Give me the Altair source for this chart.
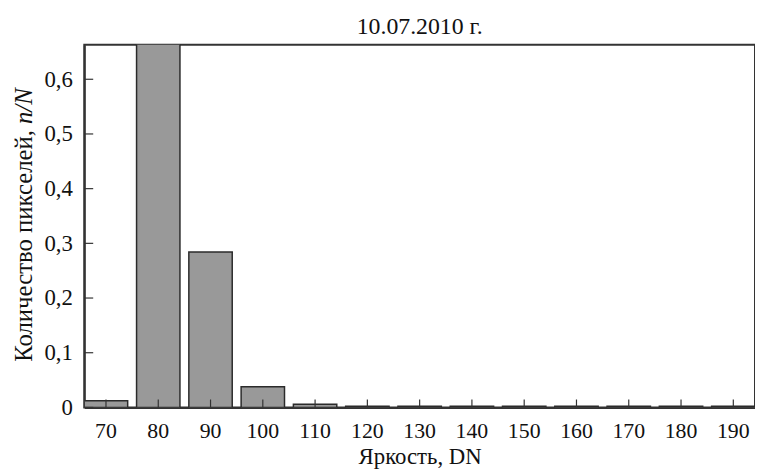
import altair as alt
import pandas as pd

categories = [70, 80, 90, 100, 110, 120, 130, 140, 150, 160, 170, 180, 190]
values = [0.012, 0.70, 0.284, 0.038, 0.006, 0.002, 0.002, 0.002, 0.002, 0.002, 0.002, 0.002, 0.002]
y_ticks = [0, 0.1, 0.2, 0.3, 0.4, 0.5, 0.6]
title_text = "10.07.2010 г."
x_title = "Яркость, DN"
y_title_main = "Количество пикселей,"
y_title_italic = "n/N"

FONT = "Liberation Serif"
W, H = 677, 366
YMAX = 0.663

df = pd.DataFrame({"dn": categories, "frac": values})
ticks_df = pd.DataFrame({"v": y_ticks})

xscale = alt.Scale(paddingInner=0.17, paddingOuter=0)
yscale = alt.Scale(domain=[0, YMAX], nice=False)

bars = alt.Chart(df).mark_bar(
    color="#999999", stroke="#2b2b2b", strokeWidth=1.5, clip=True
).encode(
    x=alt.X("dn:O", scale=xscale, title=x_title,
            axis=alt.Axis(labelAngle=0, ticks=False, labelPadding=13,
                          labelFontSize=22, labelFont=FONT, labelColor="#111",
                          titleFont=FONT, titleFontSize=23, titleFontWeight="normal",
                          titleColor="#111", titlePadding=5,
                          domainColor="#333", domainWidth=2)),
    y=alt.Y("frac:Q", scale=yscale, title=None,
            axis=alt.Axis(values=y_ticks, ticks=False, grid=False, labelPadding=12,
                          labelFontSize=23, labelFont=FONT, labelColor="#111",
                          labelExpr="datum.value == 0 ? '0' : replace(format(datum.value, '.1f'), '.', ',')",
                          domainColor="#333", domainWidth=2)),
)

xticks = alt.Chart(df).mark_rule(color="#333", strokeWidth=1.2).encode(
    x=alt.X("dn:O", scale=xscale),
    y=alt.value(H),
    y2=alt.value(H - 8),
)

yticks = alt.Chart(ticks_df).mark_rule(color="#333", strokeWidth=1.2).encode(
    y=alt.Y("v:Q", scale=yscale),
    x=alt.value(0),
    x2=alt.value(9),
)

ytitle_main = alt.Chart(pd.DataFrame({"t": [y_title_main]})).mark_text(
    angle=270, align="right", baseline="middle", font=FONT, fontSize=25, color="#111"
).encode(text="t:N", x=alt.value(-61), y=alt.value(86))

ytitle_it = alt.Chart(pd.DataFrame({"t": [y_title_italic]})).mark_text(
    angle=270, align="left", baseline="middle", font=FONT, fontSize=25,
    fontStyle="italic", color="#111"
).encode(text="t:N", x=alt.value(-61), y=alt.value(80))

chart = alt.layer(bars, xticks, yticks, ytitle_main, ytitle_it).properties(
    width=W, height=H,
    title=alt.TitleParams(title_text, font=FONT, fontSize=24, fontWeight="normal",
                          color="#111", anchor="middle", offset=6),
    autosize=alt.AutoSizeParams(type="none"),
    padding={"left": 77, "top": 35, "right": 0, "bottom": 60},
).configure_view(stroke="#333", strokeWidth=2)

chart.save("out.html", embed_options={"renderer": "svg", "actions": False})
